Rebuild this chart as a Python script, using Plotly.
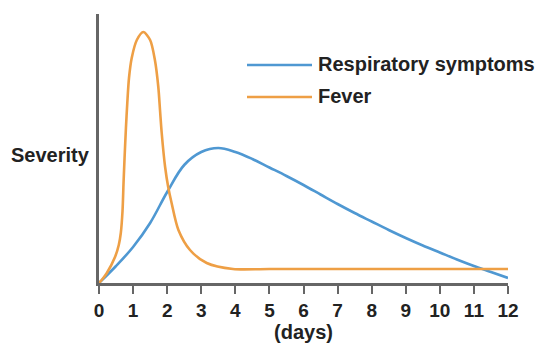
import plotly.graph_objects as go

# Data (severity in arbitrary units, 0-269 scale)
resp_days = [0, 0.5, 1, 1.5, 2, 2.5, 3, 3.5, 4, 4.5, 5, 5.5, 6, 6.5, 7, 7.5, 8, 8.5,
             9, 9.5, 10, 10.5, 11, 11.5, 12]
resp_vals = [0, 17, 36, 60, 91, 118, 131, 135, 131, 124, 115.5, 107, 98, 88.5, 79, 70, 61.5, 53,
             45, 37.5, 30.5, 23.5, 17, 11, 5]

fever_days = [0, 0.08, 0.23, 0.47, 0.58, 0.64, 0.69, 0.72, 0.75, 0.79, 0.83, 0.88, 0.96, 1.11, 1.30,
              1.50, 1.64, 1.74, 1.79, 1.84, 1.94, 2.03, 2.13, 2.33, 2.67, 3.16, 3.93, 5, 12]
fever_vals = [0, 3, 10, 26, 38, 50, 72, 100, 125, 155, 180, 205, 225, 243, 251,
              243, 223, 196, 173, 150, 116, 96, 80, 53, 33, 20, 14, 14, 14]

x_ticks = list(range(0, 13))
series_names = ["Respiratory symptoms", "Fever"]

BLUE = "#4f98d2"
ORANGE = "#ee9f45"
AXIS = "#666666"
TEXT = "#222222"
FONT = "Liberation Sans, Arial, sans-serif"

fig = go.Figure()
fig.add_trace(go.Scatter(x=resp_days, y=resp_vals, mode="lines",
                         line=dict(color=BLUE, width=2.6, shape="spline", smoothing=1.0),
                         name=series_names[0], showlegend=False, hoverinfo="skip"))
fig.add_trace(go.Scatter(x=fever_days, y=fever_vals, mode="lines",
                         line=dict(color=ORANGE, width=2.6, shape="spline", smoothing=0.8),
                         name=series_names[1], showlegend=False, hoverinfo="skip"))

W, H = 550, 360
L, R, T, B = 99, 42, 14, 77
pw, ph = W - L - R, H - T - B

def px(x):
    return (x - L) / pw

def py(y):
    return (H - B - y) / ph

# Manual legend
legend_rows = [(65, BLUE, series_names[0]), (97, ORANGE, series_names[1])]
for yy, col, name in legend_rows:
    fig.add_shape(type="line", xref="paper", yref="paper",
                  x0=px(247), x1=px(312), y0=py(yy), y1=py(yy),
                  line=dict(color=col, width=2.6))
    fig.add_annotation(xref="paper", yref="paper", x=px(316), y=py(yy - 1),
                       text=f"<b>{name}</b>", showarrow=False,
                       xanchor="left", yanchor="middle",
                       font=dict(family=FONT, size=20, color=TEXT))

fig.add_annotation(xref="paper", yref="paper", x=px(50), y=py(155),
                   text="<b>Severity</b>", showarrow=False,
                   xanchor="center", yanchor="middle",
                   font=dict(family=FONT, size=20, color=TEXT))

fig.update_layout(
    width=W, height=H,
    margin=dict(l=L, r=R, t=T, b=B),
    paper_bgcolor="white", plot_bgcolor="white",
    showlegend=False,
    xaxis=dict(range=[0, 12], tickvals=x_ticks, ticktext=[str(t) for t in x_ticks],
               showgrid=False, zeroline=False, showline=True,
               linecolor=AXIS, linewidth=2.5,
               ticks="outside", ticklen=8, tickwidth=2, tickcolor=AXIS,
               tickfont=dict(family=FONT, size=19, color=TEXT, weight="bold"),
               title=dict(text="<b>(days)</b>", standoff=6,
                          font=dict(family=FONT, size=20, color=TEXT))),
    yaxis=dict(range=[0, 269], showgrid=False, zeroline=False, showline=True,
               linecolor=AXIS, linewidth=2.5, showticklabels=False, ticks=""),
)

fig.write_html("out.html", config={"displayModeBar": False},
               post_script="document.body.style.margin='0';")
